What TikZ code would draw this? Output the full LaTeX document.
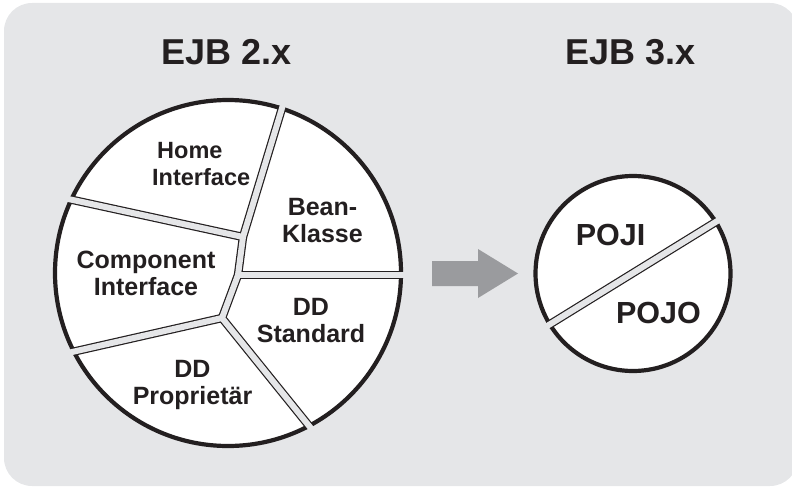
\documentclass[tikz,border=0pt]{standalone}
\usepackage{fontspec}
\setmainfont{Liberation Sans}
\definecolor{panel}{HTML}{E5E6E8}
\definecolor{arrowgray}{HTML}{9A9B9E}
\definecolor{ink}{HTML}{231F20}
\begin{document}
\begin{tikzpicture}[x=1pt,y=-1pt,
  title/.style={font=\fontsize{36}{40}\selectfont\bfseries, text=ink, anchor=base, inner sep=0pt},
  label/.style={font=\fontsize{25}{27}\selectfont\bfseries, text=ink, anchor=base, inner sep=0pt},
  big/.style={font=\fontsize{30.5}{34}\selectfont\bfseries, text=ink, anchor=base, inner sep=0pt},
  rim/.style={draw=ink, line width=4.2pt},
  gapedge/.style={draw=ink, line width=8.4pt, line cap=round, line join=round},
  gapfill/.style={draw=panel, line width=6pt, line cap=round, line join=round}]
\useasboundingbox (0,0) rectangle (792,487);
\clip (0,0) rectangle (792,487);

% panel
\fill[panel, rounded corners=28pt] (4,3) rectangle (798,486);

% ---- EJB 2.x pie ----
\coordinate (pc) at (228,273);
\fill[white] (pc) circle (173);
\draw[rim] (pc) circle (173);
\begin{scope}
  \clip (pc) circle (175);
  \draw[gapedge] (286,95) -- (243,237) -- (238,275) -- (222,318) -- (318,437);
  \draw[gapedge] (50,195) -- (243,237);
  \draw[gapedge] (238,275) -- (412,275);
  \draw[gapedge] (50,357) -- (222,318);
\end{scope}
\draw[gapfill] (286,95) -- (243,237) -- (238,275) -- (222,318) -- (318,437);
\draw[gapfill] (50,195) -- (243,237);
\draw[gapfill] (238,275) -- (412,275);
\draw[gapfill] (50,357) -- (222,318);

% ---- EJB 3.x circle ----
\coordinate (qc) at (633,273.5);
\fill[white] (qc) circle (97.5);
\draw[rim] (qc) circle (97.5);
\begin{scope}
  \clip (qc) circle (99.6);
  \draw[gapedge] (539,331) -- (727,215);
\end{scope}
\draw[gapfill] (539,331) -- (727,215);

% transition arrow
\fill[arrowgray] (432,261) -- (478,261) -- (478,249) -- (518,273.5)
  -- (478,298) -- (478,286) -- (432,286) -- cycle;

% headings
\node[title] (t2) at (227,64) {EJB 2.x};
\node[title] (t3) at (630.5,64) {EJB 3.x};

% slice labels
\node[label, font=\fontsize{23.5}{27}\selectfont\bfseries, anchor=base west] (home) at (152,158.3)
  {\begin{tabular}[t]{@{}l@{}}\hspace*{5pt}Home\\Interface\end{tabular}};
\node[label] (comp) at (146,268)
  {\begin{tabular}[t]{@{}c@{}}Component\\Interface\end{tabular}};
\node[label] (bean) at (322.5,215)
  {\begin{tabular}[t]{@{}c@{}}Bean-\\Klasse\end{tabular}};
\node[label] (std) at (311,315)
  {\begin{tabular}[t]{@{}c@{}}DD\\Standard\end{tabular}};
\node[label] (prop) at (192.5,377)
  {\begin{tabular}[t]{@{}c@{}}DD\\Proprietär\end{tabular}};

\node[big] (poji) at (610.5,245) {POJI};
\node[big] (pojo) at (658.5,323) {POJO};
\end{tikzpicture}
\end{document}
